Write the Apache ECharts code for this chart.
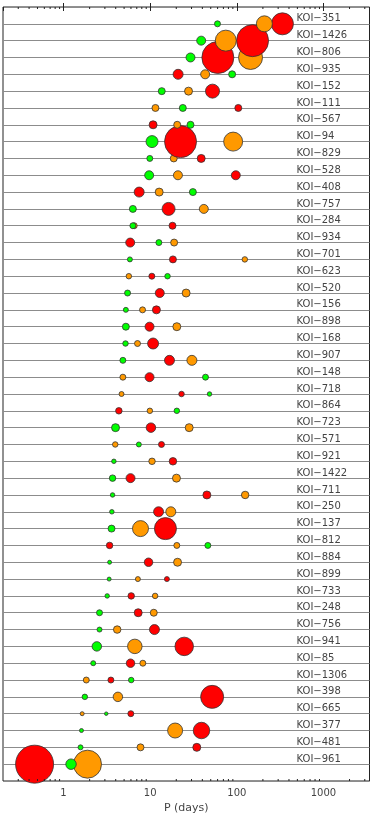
<!DOCTYPE html>
<html><head><meta charset="utf-8">
<script src="https://cdn.jsdelivr.net/npm/echarts@6/dist/echarts.min.js"></script>
<style>html,body{margin:0;padding:0;background:#fff}#c{width:374px;height:822px}</style>
</head><body><div id="c"></div>
<script>
// Systems, top to bottom
const systems = ["KOI−351","KOI−1426","KOI−806","KOI−935","KOI−152","KOI−111","KOI−567","KOI−94","KOI−829","KOI−528",
 "KOI−408","KOI−757","KOI−284","KOI−934","KOI−701","KOI−623","KOI−520","KOI−156","KOI−898","KOI−168",
 "KOI−907","KOI−148","KOI−718","KOI−864","KOI−723","KOI−571","KOI−921","KOI−1422","KOI−711","KOI−250",
 "KOI−137","KOI−812","KOI−884","KOI−899","KOI−733","KOI−248","KOI−756","KOI−941","KOI−85","KOI−1306",
 "KOI−398","KOI−665","KOI−377","KOI−481","KOI−961"];

// Orbital periods (days) of each planet, by colour
const greenP = [59.8,38.8,29.2,88.3,13.6,23.8,29.2,10.5,9.9,9.73,
 31.1,6.31,6.31,12.6,5.83,15.85,5.48,5.24,5.24,5.19,
 4.84,43.5,48.4,20.3,3.98,7.4,3.81,3.68,3.68,3.61,
 3.58,46.3,3.40,3.36,3.19,2.60,2.60,2.42,2.20,6.04,
 1.76,3.11,1.61,1.57,1.22];
const orangeP = [208,74.6,144,43.1,27.7,11.5,20.5,90.7,18.7,20.9,
 12.7,41.6,6.54,18.9,123.7,5.67,26.0,8.16,20.3,7.14,
 30.3,4.84,4.67,9.91,28.2,3.95,10.5,20.1,124.8,17.3,
 7.73,20.3,20.7,7.21,11.4,11.0,4.16,6.65,8.23,1.83,
 4.24,1.64,19.4,7.73,1.89];
const redP = [336,152,60.4,21.0,52.4,104,10.8,22.4,38.8,97.3,
 7.46,16.3,18.1,5.88,18.3,10.45,12.9,11.8,9.83,10.8,
 16.7,9.83,23.0,4.35,10.2,13.5,18.3,5.93,45.1,12.5,
 15.0,3.40,9.57,15.6,6.04,7.27,11.2,24.7,5.93,3.52,
 51.9,5.98,39.1,34.5,0.463];

// Relative planet size (bubble diameter units)
const greenR = [6,9,9,7,7,7,7,12,6,9,
 7,7,6,6,5,5.5,6,5,7,5.5,
 6,6,4.5,5.5,8,5,4.5,6.5,4.5,4.5,
 7,6,4,4,4.5,6,5,9.5,5,5.5,
 5.5,3.5,4,5,10.5];
const orangeR = [16,21,24,9,8,7,7,19,7,9,
 8,9,6,7,5.5,5.5,8,6,8,6,
 10,6,5,5.5,8,5.5,6.5,8,7.5,10,
 16,6,8,5,5.5,7,7.5,14.5,6,6,
 9.5,4,15,7,28];
const redR = [22,32,32,10,14,7,8,32,8,9,
 10,13,7,9,7,6,9,8,9,11,
 10,9,5.5,6.5,9.5,6,7.5,9,8,10,
 22,6.5,8.5,5,6.5,8,10,18.5,8.5,6,
 23,6,16.5,8,38];

const X_MIN = 0.2, X_MAX = 3400;
const SIZE_SCALE = 1;
const COLORS = {red:'#ff0000', orange:'#ff9900', green:'#00ff00'};

// Build points: bottom row first so upper rows overlay; within a row red, orange, green
const points = [];
for (let i = systems.length - 1; i >= 0; i--) {
  points.push({value:[redP[i], i+1, redR[i]], itemStyle:{color:COLORS.red}});
  points.push({value:[orangeP[i], i+1, orangeR[i]], itemStyle:{color:COLORS.orange}});
  points.push({value:[greenP[i], i+1, greenR[i]], itemStyle:{color:COLORS.green}});
}

const minorTicks = [];
[0.1,1,10,100,1000].forEach(d => { for (let m = 2; m <= 9; m++) { const v = d*m; if (v > X_MIN*1.001 && v < X_MAX) minorTicks.push([v, 1]); } });

const FONT = 'DejaVu Sans';
const chart = echarts.init(document.getElementById('c'), null, {renderer:'canvas'});
const baseX = {
  type:'log', logBase:10, min:X_MIN, max:X_MAX,
  axisLine:{show:false},
  splitLine:{show:false},
  axisTick:{inside:true, length:4, lineStyle:{color:'#222', width:1}},
};
chart.setOption({
  animation:false,
  backgroundColor:'#fff',
  grid:{left:3, right:4.5, top:7, bottom:41, show:true, borderColor:'#222', borderWidth:1},
  xAxis:[
    Object.assign({}, baseX, {
      position:'bottom',
      axisLabel:{showMinLabel:false, showMaxLabel:false, fontSize:10, color:'#444', fontFamily:FONT, margin:7,
        formatter: v => String(Math.round(v))},
      name:'P (days)', nameLocation:'middle', nameGap:20,
      nameTextStyle:{fontSize:11, color:'#444', fontFamily:FONT}
    }),
    Object.assign({}, baseX, {position:'top', axisLabel:{show:false}})
  ],
  yAxis:{
    type:'value', inverse:true, min:0, max:systems.length+1, interval:1, position:'right',
    axisLine:{show:false}, axisTick:{show:false},
    splitLine:{show:true, lineStyle:{color:'#8c8c8c', width:1.2}},
    axisLabel:{inside:true, align:'left', verticalAlign:'bottom', margin:73, fontSize:10, lineHeight:10,
      color:'#444', fontFamily:FONT,
      formatter: v => (v >= 1 && v <= systems.length) ? systems[v-1] : ''}
  },
  series:[
    {type:'scatter', xAxisIndex:0, yAxisIndex:0, data:points, clip:false,
     symbolSize: v => v[2]*SIZE_SCALE,
     itemStyle:{borderColor:'#333', borderWidth:0.8, opacity:1},
     emphasis:{disabled:true}, z:3},
    {type:'custom', xAxisIndex:0, yAxisIndex:0, data:minorTicks, silent:true, z:5,
     renderItem:(params, api) => {
       const x = api.coord([api.value(0), api.value(1)])[0];
       const cs = params.coordSys;
       const b = cs.y + cs.height, t = cs.y;
       return {type:'group', children:[
         {type:'line', shape:{x1:x, y1:b, x2:x, y2:b-2}, style:{stroke:'#222', lineWidth:1}},
         {type:'line', shape:{x1:x, y1:t, x2:x, y2:t+2}, style:{stroke:'#222', lineWidth:1}}
       ]};
     }}
  ]
});
</script></body></html>
